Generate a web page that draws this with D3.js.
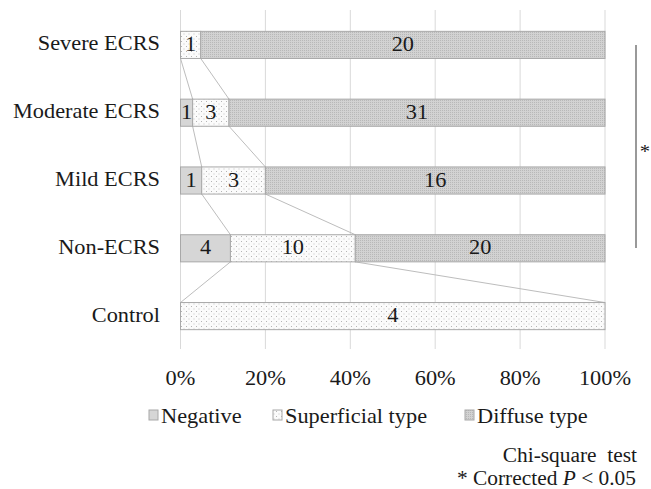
<!DOCTYPE html>
<html><head><meta charset="utf-8">
<script src="https://cdn.jsdelivr.net/npm/d3@7"></script>
<style>body{margin:0;background:#fff}</style>
</head><body><svg id="c" width="651" height="489" font-family="'Liberation Serif', 'Times New Roman', 'DejaVu Serif', serif"></svg>
<script>
const categories = ["Severe ECRS","Moderate ECRS","Mild ECRS","Non-ECRS","Control"];
const seriesNames = ["Negative","Superficial type","Diffuse type"];
const negative = [0,1,1,4,0];
const superficial = [1,3,3,10,4];
const diffuse = [20,31,16,20,0];
const xTicks = [0,0.2,0.4,0.6,0.8,1.0];

const FS = 20.5, SX = 1.09;
const svg = d3.select("#c");
const defs = svg.append("defs");
const p1 = defs.append("pattern").attr("id","pSup").attr("width",5).attr("height",5).attr("patternUnits","userSpaceOnUse");
p1.append("rect").attr("width",5).attr("height",5).attr("fill","#fbfbfb");
p1.append("rect").attr("x",1).attr("y",1).attr("width",1).attr("height",1).attr("fill","#b5b5b5");
p1.append("rect").attr("x",3.5).attr("y",3.5).attr("width",1).attr("height",1).attr("fill","#c5c5c5");
const p2 = defs.append("pattern").attr("id","pDif").attr("width",2).attr("height",2).attr("patternUnits","userSpaceOnUse");
p2.append("rect").attr("width",2).attr("height",2).attr("fill","#d2d2d2");
p2.append("rect").attr("width",1).attr("height",1).attr("fill","#b8b8b8");
const fills = ["#d6d6d6","url(#pSup)","url(#pDif)"];

function txt(g, x, y, s, anchor, fs){
  return g.append("text").attr("transform",`translate(${x},${y}) scale(${SX},1)`)
    .attr("text-anchor",anchor||"start").attr("font-size",fs||FS).attr("fill","#1a1a1a").text(s);
}

const x = d3.scaleLinear().domain([0,1]).range([180.5,605]);
const y = d3.scaleBand().domain(categories).range([11,350]).paddingInner(0.6).paddingOuter(0.3);

svg.append("g").selectAll("line").data(xTicks).join("line")
  .attr("x1",d=>x(d)).attr("x2",d=>x(d)).attr("y1",10).attr("y2",349)
  .attr("stroke","#d9d9d9").attr("stroke-width",1);

const data = categories.map((c,i)=>{
  const vals=[negative[i],superficial[i],diffuse[i]];
  const tot=d3.sum(vals);
  let cum=0;
  const segs=vals.map((v,k)=>{const s={cat:c,k,v,x0:cum/tot,x1:(cum+v)/tot};cum+=v;return s;});
  return {c,segs};
});

const sl = svg.append("g");
for(let i=0;i<data.length-1;i++){
  for(let k=0;k<2;k++){
    sl.append("line")
      .attr("x1",x(data[i].segs[k].x1)).attr("y1",y(categories[i])+y.bandwidth())
      .attr("x2",x(data[i+1].segs[k].x1)).attr("y2",y(categories[i+1]))
      .attr("stroke","#bdbdbd").attr("stroke-width",1);
  }
}

const bars = svg.append("g");
data.forEach(d=>{
  d.segs.filter(s=>s.v>0).forEach(s=>{
    bars.append("rect").attr("x",x(s.x0)).attr("y",y(s.cat)).attr("width",x(s.x1)-x(s.x0)).attr("height",y.bandwidth())
      .attr("fill",fills[s.k]).attr("stroke","#a8a8a8").attr("stroke-width",1);
    txt(bars,(x(s.x0)+x(s.x1))/2, y(s.cat)+y.bandwidth()/2+6, s.v, "middle");
  });
});

const cl = svg.append("g");
categories.forEach(c=>txt(cl,160,y(c)+y.bandwidth()/2+5.5,c,"end"));

const xl = svg.append("g");
xTicks.forEach(t=>txt(xl,x(t),385,d3.format(".0%")(t),"middle"));

const legX=[149,273,465];
const lg = svg.append("g");
seriesNames.forEach((n,k)=>{
  lg.append("rect").attr("x",legX[k]).attr("y",410).attr("width",9).attr("height",10).attr("fill",fills[k]).attr("stroke","#a8a8a8");
  txt(lg,legX[k]+12,423,n,"start");
});

svg.append("line").attr("x1",636).attr("x2",636).attr("y1",45).attr("y2",248).attr("stroke","#555").attr("stroke-width",1.2);
txt(svg,645,158,"*","middle",19);

svg.append("text").attr("transform","translate(637,462) scale(1.07,1)").attr("text-anchor","end").attr("font-size",20).attr("fill","#1a1a1a").attr("xml:space","preserve").text("Chi-square  test");
const t = svg.append("text").attr("transform","translate(636,485) scale(1.07,1)").attr("text-anchor","end").attr("font-size",20).attr("fill","#1a1a1a");
t.append("tspan").text("* Corrected ");
t.append("tspan").attr("font-style","italic").text("P");
t.append("tspan").text(" < 0.05");
</script></body></html>
